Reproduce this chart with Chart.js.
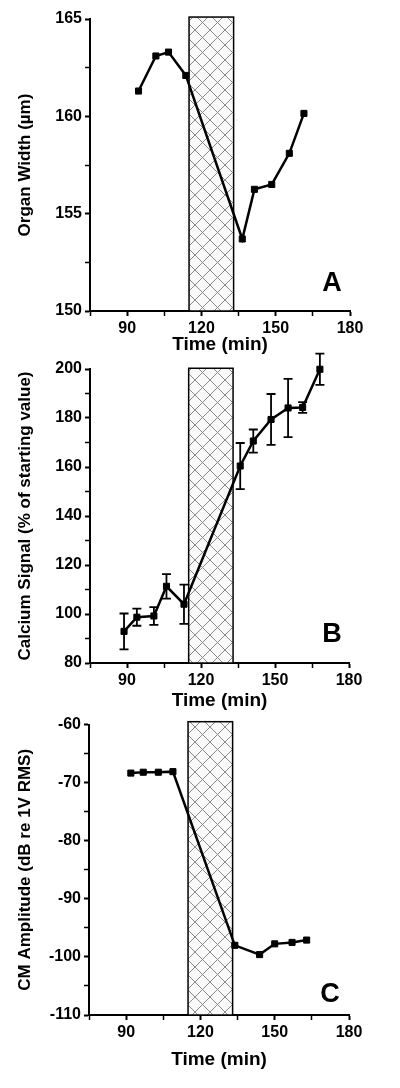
<!DOCTYPE html>
<html>
<head>
<meta charset="utf-8">
<script src="https://cdn.jsdelivr.net/npm/chart.js@4.4.1/dist/chart.umd.min.js"></script>
<style>
  body { margin: 0; background: #fff; width: 400px; height: 1088px; position: relative; overflow: hidden; }
  .panneau { position: absolute; left: 0; width: 400px; }
</style>
</head>
<body>
<div class="panneau" style="top:0;height:356px"><canvas id="chartA"></canvas></div>
<div class="panneau" style="top:350px;height:362px"><canvas id="chartB"></canvas></div>
<div class="panneau" style="top:712px;height:359px"><canvas id="chartC"></canvas></div>
<script>
// Panneau A : largeur de l'organe
const tempsA = [94.6, 101.6, 106.7, 113.7, 136.5, 141.4, 148.4, 155.5, 161.4];
const largeurA = [161.3, 163.1, 163.3, 162.1, 153.7, 156.25, 156.5, 158.1, 160.15];
const ticksA = [150, 155, 160, 165];

// Panneau B : signal calcium (+ barres d'erreur)
const tempsB = [88.8, 94.0, 100.9, 106.0, 113.1, 135.9, 141.2, 148.4, 155.3, 161.2, 168.2];
const calciumB = [92.9, 98.7, 99.2, 111.3, 104.0, 160.4, 170.6, 179.4, 184.1, 184.3, 199.9];
const erreurB = [7.3, 3.5, 3.6, 5.0, 8.0, 9.4, 4.7, 10.4, 11.9, 2.2, 6.4];
const ticksB = [80, 100, 120, 140, 160, 180, 200];

// Panneau C : amplitude CM
const tempsC = [91.9, 96.9, 103.0, 108.9, 133.9, 143.9, 150.0, 157.0, 162.9];
const amplitudeC = [-68.35, -68.2, -68.2, -68.1, -98.0, -99.6, -97.75, -97.5, -97.1];
const ticksC = [-110, -100, -90, -80, -70, -60];

// axe du temps commun
const ticksX = [90, 120, 150, 180];
// zone hachurée
const debutZone = 115;
const finZone = 133;

Chart.defaults.font.family = 'Arial, "Liberation Sans", sans-serif';
Chart.defaults.font.weight = 'bold';
Chart.defaults.color = '#000';

// motif quadrillé pour la zone
function motifHachure(ctx) {
    const c = document.createElement('canvas');
    c.width = 15; c.height = 15;
    const g = c.getContext('2d');
    g.fillStyle = '#fafafa';
    g.fillRect(0, 0, 15, 15);
    g.strokeStyle = '#8a8a8a';
    g.lineWidth = 1;
    g.beginPath();
    g.moveTo(0, 0); g.lineTo(15, 15);
    g.moveTo(15, 0); g.lineTo(0, 15);
    g.stroke();
    return ctx.createPattern(c, 'repeat');
}

const pluginZone = {
    id: 'zone',
    beforeDatasetsDraw(chart, args, opts) {
        const ctx = chart.ctx;
        const x = chart.scales.x, y = chart.scales.y;
        const x1 = x.getPixelForValue(debutZone);
        const x2 = x.getPixelForValue(finZone);
        const y1 = y.getPixelForValue(opts.haut);
        const y2 = y.getPixelForValue(y.min);
        ctx.save();
        ctx.fillStyle = motifHachure(ctx);
        ctx.fillRect(x1, y1, x2 - x1, y2 - y1);
        ctx.strokeStyle = '#000';
        ctx.lineWidth = 1.5;
        ctx.strokeRect(x1, y1, x2 - x1, y2 - y1);
        ctx.restore();
    }
};

const pluginErreurs = {
    id: 'erreurs',
    afterDatasetsDraw(chart) {
        const ds = chart.data.datasets[0];
        if (!ds.erreurs) return;
        const ctx = chart.ctx;
        const x = chart.scales.x, y = chart.scales.y;
        ctx.save();
        ctx.strokeStyle = '#000';
        ctx.lineWidth = 1.8;
        ds.data.forEach((p, i) => {
            const px = x.getPixelForValue(p.x);
            const haut = y.getPixelForValue(p.y + ds.erreurs[i]);
            const bas = y.getPixelForValue(p.y - ds.erreurs[i]);
            ctx.beginPath();
            ctx.moveTo(px, haut); ctx.lineTo(px, bas);
            ctx.moveTo(px - 4.5, haut); ctx.lineTo(px + 4.5, haut);
            ctx.moveTo(px - 4.5, bas); ctx.lineTo(px + 4.5, bas);
            ctx.stroke();
        });
        ctx.restore();
    }
};

const pluginLettre = {
    id: 'lettre',
    afterDraw(chart, args, opts) {
        const ctx = chart.ctx;
        const a = chart.chartArea;
        ctx.save();
        ctx.font = 'bold 27px Arial, "Liberation Sans", sans-serif';
        ctx.fillStyle = '#000';
        ctx.textAlign = 'center';
        ctx.textBaseline = 'middle';
        ctx.fillText(opts.texte, a.right + opts.dx, a.bottom + opts.dy);
        ctx.restore();
    }
};

function creerPanneau(id, temps, valeurs, erreurs, p) {
    const points = temps.map((t, i) => ({ x: t, y: valeurs[i] }));
    return new Chart(document.getElementById(id), {
        type: 'line',
        data: {
            datasets: [{
                data: points,
                erreurs: erreurs,
                borderColor: '#000',
                borderWidth: 2.5,
                backgroundColor: '#000',
                pointStyle: 'rect',
                pointRadius: 4.3,
                pointBorderWidth: 1,
                tension: 0,
                clip: false
            }]
        },
        options: {
            responsive: true,
            maintainAspectRatio: false,
            animation: false,
            layout: { padding: { top: p.haut, right: p.droite, left: 0, bottom: 0 } },
            plugins: {
                legend: { display: false },
                tooltip: { enabled: false },
                zone: { haut: p.hautZone },
                lettre: { texte: p.lettre, dx: p.dx, dy: p.dy }
            },
            scales: {
                x: {
                    type: 'linear',
                    min: 75, max: 180,
                    afterFit: s => { s.height = p.hauteurX; },
                    border: { display: true, color: '#000', width: 2 },
                    grid: {
                        drawOnChartArea: false, drawTicks: true, tickLength: 5,
                        tickColor: '#000',
                        tickWidth: c => ticksX.includes(c.tick.value) ? 2 : 1.5
                    },
                    ticks: {
                        stepSize: 15, autoSkip: false, maxRotation: 0, padding: 3,
                        font: { size: 16, weight: 'bold' },
                        callback: v => ticksX.includes(v) ? String(v) : ''
                    },
                    title: {
                        display: true, text: 'Time (min)',
                        font: { size: 19, weight: 'bold' },
                        padding: { top: 0, bottom: 0 }
                    }
                },
                y: {
                    type: 'linear',
                    min: p.min, max: p.max,
                    afterFit: s => { s.width = p.largeurY; },
                    border: { display: true, color: '#000', width: 2 },
                    grid: {
                        drawOnChartArea: false, drawTicks: true, tickLength: 5,
                        tickColor: '#000',
                        tickWidth: c => p.ticks.includes(c.tick.value) ? 2 : 1.5
                    },
                    ticks: {
                        stepSize: p.pas, autoSkip: false, padding: 3,
                        font: { size: 16, weight: 'bold' },
                        callback: v => p.ticks.includes(v) ? String(v) : ''
                    },
                    title: {
                        display: true, text: p.titre,
                        font: { size: 17, weight: 'bold' },
                        padding: { top: 15, bottom: 0 }
                    }
                }
            }
        },
        plugins: [pluginZone, pluginErreurs, pluginLettre]
    });
}

creerPanneau('chartA', tempsA, largeurA, null, {
    min: 150, max: 165, pas: 2.5, ticks: ticksA, titre: 'Organ Width (µm)',
    haut: 19, droite: 50, hauteurX: 45, largeurY: 90, hautZone: 165.1,
    lettre: 'A', dx: -18, dy: -27
});
creerPanneau('chartB', tempsB, calciumB, erreurB, {
    min: 80, max: 200, pas: 10, ticks: ticksB, titre: 'Calcium Signal (% of starting value)',
    haut: 19, droite: 51, hauteurX: 49, largeurY: 90, hautZone: 200.3,
    lettre: 'B', dx: -17, dy: -28
});
creerPanneau('chartC', tempsC, amplitudeC, null, {
    min: -110, max: -60, pas: 5, ticks: ticksC, titre: 'CM Amplitude (dB re 1V RMS)',
    haut: 10, droite: 51, hauteurX: 56, largeurY: 89, hautZone: -59.5,
    lettre: 'C', dx: -19, dy: -20
});
</script>
</body>
</html>
